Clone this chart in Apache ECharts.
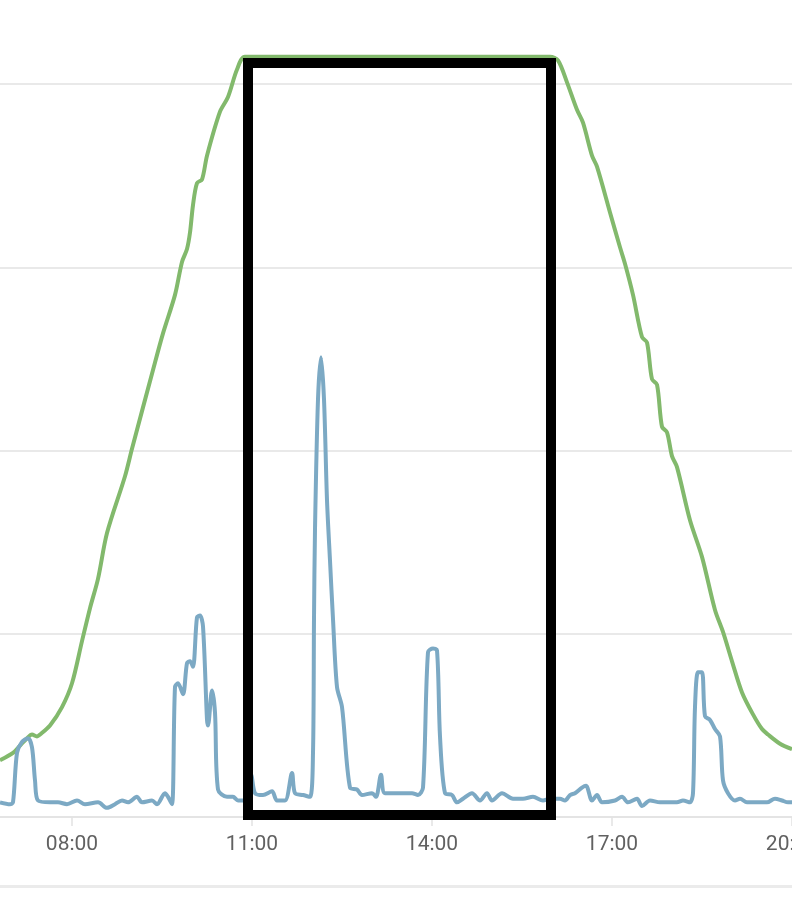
<!DOCTYPE html>
<html>
<head>
<meta charset="utf-8">
<script src="https://cdn.jsdelivr.net/npm/echarts@6/dist/echarts.min.js"></script>
<style>
html,body{margin:0;padding:0;background:#fff;}
#chart{width:792px;height:915px;}
</style>
</head>
<body>
<div id="chart"></div>
<script>
// x values are minutes since midnight
var xTickInterval = 180;
var xMin = 300, xMax = 1380;

var greenMinutes = [408,421,428,435,440,445,448,458,470,480,490,498,506,515,533,540,561,571,583,590,595,598,601,605,610,615,628,636,645,653,700,800,900,958,966,975,985,991,1000,1005,1018,1028,1033,1041,1050,1055,1060,1065,1070,1075,1080,1085,1098,1110,1123,1131,1140,1150,1161,1170,1176,1188,1200];
var greenValues  = [0.31,0.35,0.39,0.43,0.45,0.44,0.45,0.50,0.60,0.73,0.96,1.14,1.30,1.55,1.86,2.01,2.44,2.64,2.85,3.03,3.10,3.19,3.34,3.46,3.48,3.61,3.85,3.93,4.08,4.15,4.15,4.15,4.15,4.15,4.13,4.01,3.86,3.79,3.61,3.55,3.30,3.11,3.02,2.85,2.62,2.59,2.39,2.36,2.13,2.10,1.97,1.91,1.62,1.42,1.13,1.01,0.85,0.68,0.56,0.48,0.45,0.40,0.37];

var blueMinutes = [408,418,421,425,430,436,440,443,446,458,466,475,485,493,506,515,523,530,536,545,550,560,565,573,576,580,583,586,591,595,598,601,605,608,611,615,616,620,623,626,635,641,646,651,659,663,671,680,685,693,700,703,711,718,721,722,723,726,729,732,735,738,741,745,750,758,765,770,780,784,789,793,811,820,826,831,836,841,845,848,853,860,865,871,880,888,895,900,910,921,931,941,951,958,968,973,978,983,990,994,1000,1005,1010,1023,1030,1036,1045,1050,1058,1068,1085,1091,1098,1101,1103,1106,1110,1113,1118,1123,1128,1131,1136,1143,1148,1155,1168,1175,1183,1190,1196,1200];
var blueValues  = [0.08,0.07,0.08,0.35,0.41,0.43,0.38,0.20,0.09,0.08,0.08,0.07,0.09,0.07,0.08,0.05,0.07,0.09,0.08,0.11,0.08,0.09,0.07,0.13,0.11,0.07,0.71,0.73,0.67,0.84,0.85,0.82,1.09,1.10,1.04,0.53,0.50,0.69,0.57,0.15,0.11,0.11,0.09,0.09,0.23,0.13,0.12,0.14,0.09,0.09,0.24,0.13,0.12,0.11,0.35,1.08,1.57,2.28,2.51,2.28,1.73,1.40,1.08,0.71,0.60,0.16,0.15,0.12,0.13,0.11,0.23,0.13,0.13,0.13,0.12,0.16,0.90,0.92,0.91,0.44,0.13,0.12,0.08,0.10,0.13,0.09,0.13,0.09,0.13,0.10,0.10,0.11,0.09,0.10,0.10,0.09,0.12,0.13,0.16,0.17,0.09,0.12,0.08,0.09,0.11,0.08,0.10,0.06,0.09,0.08,0.08,0.09,0.08,0.13,0.60,0.79,0.79,0.55,0.53,0.48,0.44,0.20,0.13,0.09,0.10,0.08,0.08,0.08,0.10,0.09,0.08,0.08];

function pairs(xs, ys){ return xs.map(function(x,i){ return [x, ys[i]]; }); }
function fmt(m){ var h = Math.floor(m/60), mm = m%60; return (h<10?'0':'')+h+':'+(mm<10?'0':'')+mm; }

var chart = echarts.init(document.getElementById('chart'), null, {renderer:'canvas'});
chart.setOption({
  animation: false,
  backgroundColor: '#ffffff',
  grid: { left: -108, right: -180, top: -99, bottom: 98, containLabel: false, outerBoundsMode: 'none' },
  xAxis: {
    type: 'value', min: xMin, max: xMax, interval: xTickInterval,
    axisLine: { show: true, lineStyle: { color: '#e2e2e2', width: 1.5 } },
    axisTick: { show: true, length: 9, lineStyle: { color: '#e2e2e2', width: 1.5 } },
    axisLabel: { formatter: function(v){ return fmt(v); }, fontSize: 21, color: '#616161', margin: 17, fontFamily: 'Roboto' },
    splitLine: { show: false }
  },
  yAxis: {
    type: 'value', min: 0, max: 5, interval: 1,
    axisLine: { show: false }, axisTick: { show: false }, axisLabel: { show: false },
    splitLine: { show: true, lineStyle: { color: '#e2e2e2', width: 1.5 } }
  },
  series: [
    { type: 'line', data: pairs(greenMinutes, greenValues), showSymbol: false, smooth: 0.3,
      lineStyle: { color: '#82b96c', width: 4 }, z: 3 },
    { type: 'line', data: pairs(blueMinutes, blueValues), showSymbol: false, smooth: 0.3,
      lineStyle: { color: '#7ca9c4', width: 4 }, z: 4 }
  ],
  graphic: [
    { type: 'rect', z: 100, shape: { x: 248, y: 63, width: 303, height: 752 },
      style: { fill: 'none', stroke: '#000000', lineWidth: 10 } },
    { type: 'rect', z: 100, shape: { x: 0, y: 885, width: 792, height: 3 },
      style: { fill: '#ebebeb' } }
  ]
});
</script>
</body>
</html>
